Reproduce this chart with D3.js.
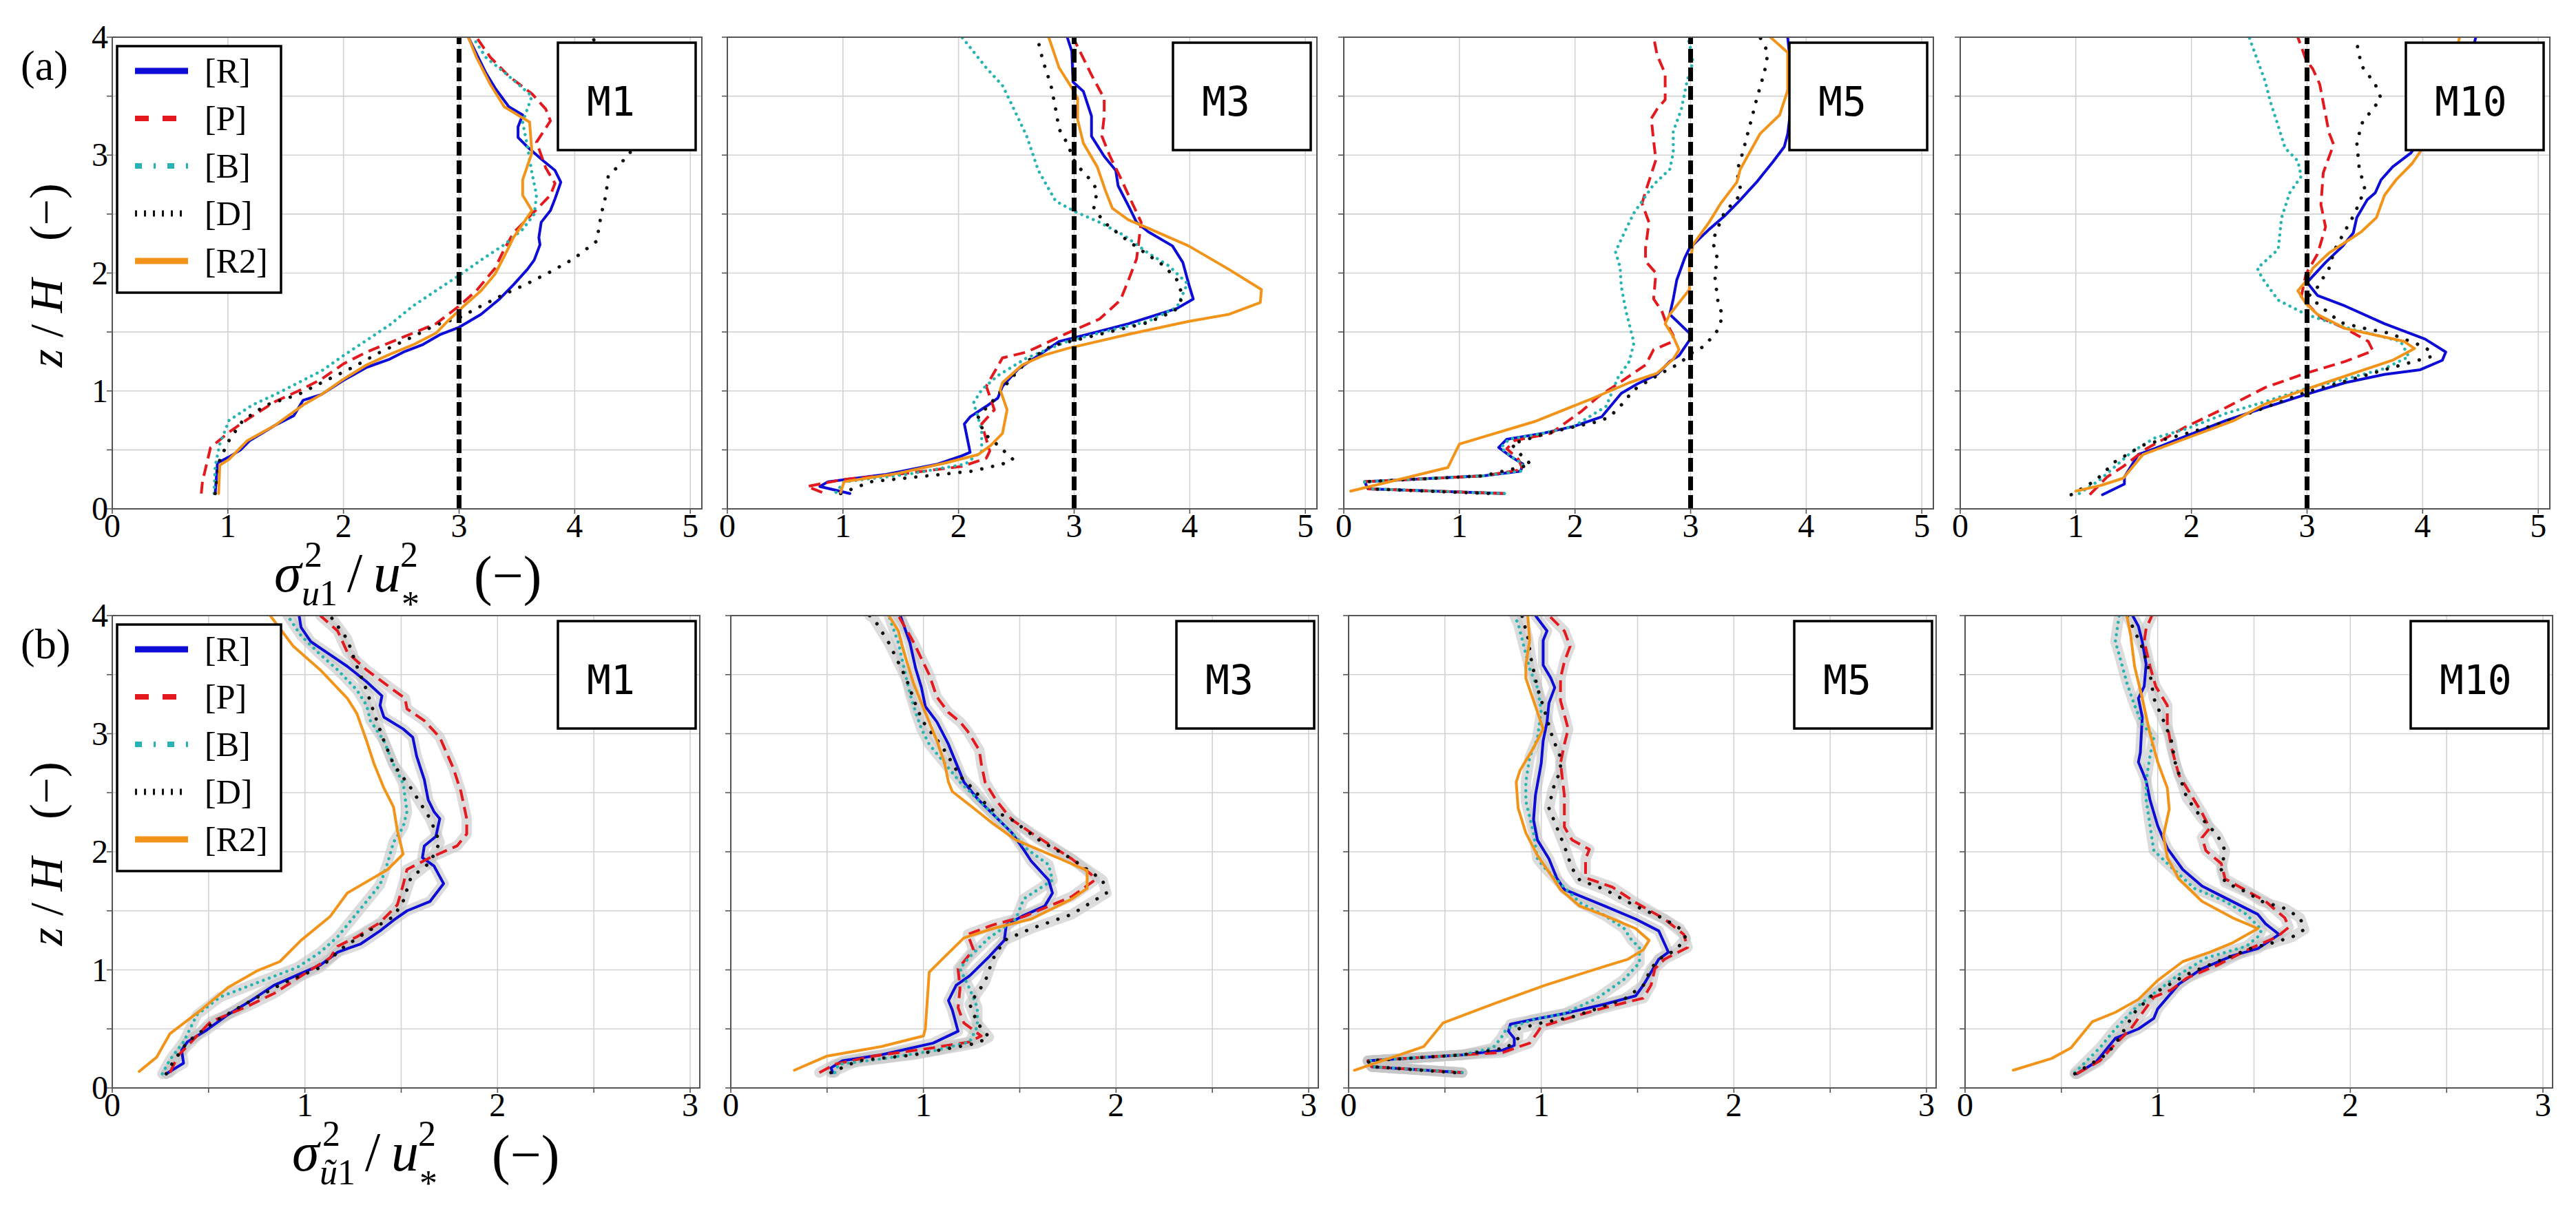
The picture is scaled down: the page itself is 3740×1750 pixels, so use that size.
<!DOCTYPE html>
<html><head><meta charset="utf-8">
<script src="https://cdn.jsdelivr.net/npm/d3@7"></script>
<style>body{margin:0;background:#fff}</style>
</head><body>
<svg id="c" width="3740" height="1750" xmlns="http://www.w3.org/2000/svg"></svg>
<script>
// ---------- categories / labels ----------
const seriesNames = ["[R]", "[P]", "[B]", "[D]", "[R2]"];
const caseLabels = ["M1", "M3", "M5", "M10"];
const rowLetters = ["(a)", "(b)"];
const topXTicks = [0, 1, 2, 3, 4, 5];
const botXTicks = [0, 1, 2, 3];
const yTickLabels = [0, 1, 2, 3, 4];
const refValue = 3;

// ---------- row (a): sigma_u1^2 / u*^2, points are [x, z/H] ----------
const a1R = [[0.89,0.13],[0.91,0.39],[1.01,0.44],[1.11,0.5],[1.19,0.58],[1.41,0.71],[1.57,0.79],[1.65,0.92],[1.81,0.97],[2.0,1.09],[2.2,1.2],[2.4,1.27],[2.52,1.33],[2.68,1.39],[2.84,1.48],[3.0,1.54],[3.19,1.65],[3.35,1.78],[3.47,1.9],[3.59,2.03],[3.65,2.11],[3.7,2.24],[3.69,2.3],[3.71,2.43],[3.79,2.53],[3.83,2.63],[3.88,2.77],[3.83,2.87],[3.73,2.95],[3.59,3.07],[3.51,3.15],[3.51,3.24],[3.55,3.34],[3.43,3.41],[3.31,3.57],[3.23,3.7],[3.15,3.86],[3.08,4.0]];
const a1P = [[0.77,0.13],[0.78,0.23],[0.85,0.52],[1.01,0.65],[1.17,0.76],[1.41,0.91],[1.61,1.0],[1.81,1.1],[2.0,1.23],[2.2,1.33],[2.4,1.41],[2.6,1.49],[2.8,1.57],[3.0,1.72],[3.15,1.85],[3.31,2.04],[3.39,2.2],[3.47,2.34],[3.63,2.5],[3.79,2.66],[3.83,2.76],[3.75,2.89],[3.67,3.11],[3.79,3.29],[3.75,3.39],[3.63,3.52],[3.43,3.67],[3.27,3.83],[3.15,4.0]];
const a1B = [[0.88,0.13],[0.89,0.36],[0.93,0.55],[1.01,0.75],[1.21,0.88],[1.41,0.97],[1.61,1.07],[1.81,1.17],[2.0,1.3],[2.2,1.43],[2.4,1.56],[2.6,1.72],[2.8,1.85],[3.0,1.98],[3.19,2.11],[3.39,2.24],[3.55,2.37],[3.65,2.5],[3.67,2.66],[3.63,2.85],[3.59,3.08],[3.55,3.28],[3.63,3.5],[3.43,3.67],[3.23,3.83],[3.12,4.0]];
const a1D = [[0.89,0.13],[0.93,0.42],[1.01,0.58],[1.13,0.75],[1.33,0.88],[1.61,0.97],[1.81,1.07],[2.08,1.2],[2.32,1.33],[2.6,1.46],[2.8,1.56],[3.0,1.62],[3.19,1.72],[3.39,1.82],[3.59,1.91],[3.79,2.01],[3.99,2.12],[4.11,2.21],[4.19,2.27],[4.23,2.5],[4.27,2.66],[4.29,2.82],[4.39,2.92],[4.48,3.02],[4.5,3.3],[4.4,3.6],[4.25,3.85],[4.15,4.0]];
const a1R2 = [[0.92,0.13],[0.93,0.37],[1.01,0.42],[1.17,0.58],[1.41,0.71],[1.65,0.88],[1.81,0.97],[2.0,1.1],[2.2,1.22],[2.4,1.31],[2.6,1.39],[2.8,1.49],[2.9,1.59],[3.04,1.72],[3.19,1.85],[3.31,1.99],[3.39,2.14],[3.47,2.3],[3.63,2.53],[3.55,2.66],[3.55,2.79],[3.63,3.02],[3.61,3.28],[3.39,3.41],[3.27,3.6],[3.15,3.83],[3.08,4.0]];

const a2R = [[1.06,0.13],[0.8,0.19],[0.87,0.23],[1.36,0.29],[1.82,0.38],[2.03,0.45],[2.1,0.48],[2.05,0.72],[2.1,0.78],[2.24,0.87],[2.34,0.94],[2.38,1.04],[2.52,1.19],[2.69,1.3],[2.87,1.42],[3.12,1.48],[3.47,1.57],[3.89,1.7],[4.03,1.78],[3.99,1.91],[3.94,2.09],[3.85,2.23],[3.64,2.35],[3.54,2.43],[3.48,2.55],[3.38,2.74],[3.36,2.87],[3.26,2.99],[3.15,3.16],[3.15,3.33],[3.08,3.54],[2.99,3.62],[2.98,3.88],[2.94,4.0]];
const a2P = [[0.82,0.14],[0.69,0.19],[1.01,0.25],[1.54,0.3],[2.03,0.36],[2.24,0.43],[2.27,0.49],[2.2,0.72],[2.31,0.84],[2.24,1.04],[2.31,1.16],[2.38,1.28],[2.59,1.33],[2.94,1.49],[3.22,1.61],[3.4,1.77],[3.47,1.94],[3.54,2.12],[3.58,2.43],[3.48,2.64],[3.4,2.81],[3.31,2.99],[3.24,3.16],[3.26,3.33],[3.26,3.48],[3.15,3.68],[3.05,3.88],[2.99,4.0]];
const a2B = [[0.94,0.14],[1.01,0.23],[1.54,0.29],[2.06,0.38],[2.2,0.49],[2.2,0.67],[2.13,0.9],[2.2,1.01],[2.34,1.13],[2.59,1.28],[2.94,1.42],[3.29,1.51],[3.64,1.59],[3.89,1.71],[3.98,1.91],[3.82,2.06],[3.64,2.17],[3.43,2.32],[3.22,2.43],[3.01,2.52],[2.84,2.61],[2.69,2.87],[2.59,3.16],[2.45,3.45],[2.38,3.59],[2.24,3.74],[2.03,4.0]];
const a2D = [[0.98,0.13],[1.24,0.23],[1.73,0.28],[2.12,0.32],[2.38,0.38],[2.47,0.42],[2.34,0.54],[2.22,0.64],[2.17,0.78],[2.31,0.93],[2.45,1.1],[2.59,1.25],[2.8,1.38],[3.22,1.48],[3.64,1.58],[3.87,1.68],[3.94,1.8],[3.89,1.94],[3.78,2.06],[3.57,2.2],[3.4,2.32],[3.26,2.43],[3.17,2.55],[3.2,2.7],[3.15,2.78],[3.01,2.93],[2.94,3.1],[2.87,3.22],[2.84,3.39],[2.8,3.59],[2.73,3.8],[2.68,4.0]];
const a2R2 = [[0.98,0.14],[1.01,0.23],[1.47,0.3],[1.89,0.39],[2.17,0.46],[2.28,0.54],[2.38,0.64],[2.42,0.84],[2.36,1.01],[2.38,1.07],[2.55,1.22],[2.73,1.3],[2.94,1.36],[3.47,1.48],[3.99,1.59],[4.34,1.65],[4.61,1.75],[4.62,1.86],[4.34,2.03],[3.99,2.23],[3.64,2.38],[3.47,2.45],[3.33,2.55],[3.27,2.7],[3.2,2.9],[3.08,3.1],[3.03,3.3],[3.03,3.48],[2.98,3.57],[2.87,3.74],[2.78,4.0]];

const a3R = [[1.39,0.13],[0.21,0.17],[0.18,0.23],[1.21,0.28],[1.53,0.32],[1.55,0.38],[1.45,0.44],[1.34,0.52],[1.41,0.59],[1.72,0.64],[1.99,0.7],[2.23,0.78],[2.4,0.98],[2.54,1.06],[2.71,1.14],[2.82,1.25],[2.9,1.3],[2.99,1.43],[2.99,1.49],[2.82,1.65],[2.85,1.78],[2.88,1.94],[2.95,2.13],[2.99,2.21],[3.16,2.37],[3.29,2.48],[3.42,2.61],[3.57,2.77],[3.71,2.94],[3.81,3.07],[3.84,3.18],[3.88,3.5],[3.86,3.8],[3.84,4.0]];
const a3P = [[1.39,0.13],[0.21,0.17],[0.18,0.23],[1.21,0.28],[1.55,0.335],[1.51,0.42],[1.41,0.51],[1.48,0.58],[1.79,0.64],[2.06,0.83],[2.2,0.95],[2.37,1.06],[2.61,1.22],[2.68,1.35],[2.85,1.42],[2.85,1.47],[2.78,1.6],[2.75,1.68],[2.68,1.78],[2.7,2.0],[2.61,2.1],[2.61,2.21],[2.64,2.43],[2.58,2.59],[2.61,2.69],[2.7,2.96],[2.68,3.12],[2.66,3.31],[2.71,3.39],[2.78,3.47],[2.78,3.69],[2.71,3.85],[2.68,4.0]];
const a3B = [[1.39,0.13],[0.21,0.17],[0.18,0.23],[1.21,0.28],[1.53,0.32],[1.55,0.38],[1.45,0.44],[1.36,0.52],[1.43,0.59],[1.72,0.64],[1.99,0.7],[2.27,0.87],[2.37,1.11],[2.47,1.25],[2.51,1.41],[2.44,1.68],[2.4,1.89],[2.39,2.05],[2.35,2.18],[2.44,2.37],[2.51,2.51],[2.68,2.75],[2.82,2.88],[2.85,3.02],[2.85,3.2],[2.92,3.39],[2.97,3.63],[3.02,3.79],[2.99,3.95],[2.97,4.0]];
const a3D = [[1.25,0.13],[0.21,0.17],[0.18,0.23],[1.21,0.28],[1.62,0.375],[1.51,0.48],[1.45,0.55],[1.72,0.63],[1.92,0.68],[2.2,0.74],[2.3,0.78],[2.4,0.88],[2.51,1.01],[2.64,1.09],[2.82,1.19],[2.9,1.23],[3.02,1.33],[3.12,1.38],[3.23,1.51],[3.28,1.64],[3.24,1.73],[3.21,1.97],[3.23,2.13],[3.19,2.27],[3.23,2.37],[3.29,2.51],[3.41,2.64],[3.43,2.72],[3.4,2.86],[3.45,3.02],[3.52,3.28],[3.57,3.47],[3.64,3.71],[3.67,3.87],[3.6,4.0]];
const a3R2 = [[0.06,0.15],[0.9,0.35],[1.0,0.55],[1.65,0.74],[2.16,0.94],[2.47,1.07],[2.71,1.15],[2.85,1.27],[2.9,1.35],[2.85,1.46],[2.78,1.57],[2.82,1.65],[2.99,1.86],[2.99,2.05],[3.02,2.24],[3.16,2.43],[3.26,2.59],[3.4,2.77],[3.43,2.88],[3.6,3.18],[3.77,3.34],[3.84,3.55],[3.84,3.87],[3.69,4.0]];

const a4R = [[1.23,0.12],[1.42,0.21],[1.42,0.27],[1.54,0.46],[1.68,0.51],[1.96,0.62],[2.3,0.75],[2.64,0.86],[2.99,0.97],[3.33,1.07],[3.67,1.14],[3.98,1.18],[4.17,1.26],[4.2,1.33],[4.02,1.44],[3.67,1.57],[3.33,1.72],[3.09,1.81],[3.0,1.92],[3.16,2.09],[3.31,2.23],[3.4,2.34],[3.43,2.47],[3.52,2.62],[3.59,2.68],[3.64,2.79],[3.74,2.9],[3.9,3.02],[4.1,3.3],[4.3,3.6],[4.42,3.85],[4.46,4.0]];
const a4P = [[1.12,0.12],[1.27,0.27],[1.41,0.36],[1.61,0.51],[1.96,0.7],[2.3,0.86],[2.64,1.03],[2.99,1.15],[3.33,1.25],[3.57,1.34],[3.53,1.42],[3.33,1.53],[3.12,1.62],[3.02,1.72],[2.95,1.8],[2.99,1.99],[3.09,2.16],[3.16,2.39],[3.12,2.58],[3.14,2.85],[3.23,3.09],[3.19,3.19],[3.11,3.6],[3.05,3.73],[2.99,3.81],[2.95,3.92],[2.92,4.0]];
const a4B = [[1.03,0.13],[1.2,0.24],[1.48,0.48],[1.68,0.6],[1.96,0.68],[2.3,0.81],[2.64,0.91],[2.99,1.02],[3.33,1.1],[3.67,1.19],[3.88,1.29],[3.81,1.42],[3.33,1.54],[2.99,1.65],[2.75,1.77],[2.61,1.96],[2.57,2.04],[2.75,2.2],[2.78,2.47],[2.85,2.68],[2.95,2.82],[2.92,2.95],[2.81,3.06],[2.75,3.25],[2.68,3.46],[2.64,3.62],[2.51,3.97],[2.5,4.0]];
const a4D = [[0.96,0.12],[1.17,0.24],[1.34,0.4],[1.58,0.54],[1.96,0.64],[2.3,0.74],[2.64,0.86],[2.99,0.99],[3.29,1.07],[3.67,1.18],[4.07,1.29],[4.08,1.33],[4.0,1.38],[3.84,1.44],[3.71,1.49],[3.5,1.53],[3.29,1.58],[3.09,1.74],[3.02,1.81],[3.09,1.88],[3.19,2.04],[3.24,2.2],[3.33,2.36],[3.41,2.5],[3.5,2.71],[3.45,2.9],[3.43,3.11],[3.48,3.28],[3.64,3.48],[3.59,3.6],[3.47,3.76],[3.42,4.0]];
const a4R2 = [[1.0,0.15],[1.22,0.2],[1.41,0.26],[1.58,0.46],[1.96,0.6],[2.37,0.75],[2.64,0.89],[2.92,0.99],[3.16,1.07],[3.74,1.26],[3.93,1.36],[3.84,1.42],[3.33,1.53],[3.09,1.65],[2.99,1.74],[2.92,1.85],[2.99,1.93],[3.05,2.04],[3.19,2.17],[3.33,2.26],[3.47,2.35],[3.6,2.47],[3.67,2.66],[3.77,2.79],[3.91,2.93],[3.98,3.03],[4.1,3.4],[4.25,3.75],[4.32,4.0]];

// ---------- row (b): sigma_~u1^2 / u*^2 ----------
const b1R = [[0.28,0.12],[0.37,0.21],[0.36,0.32],[0.39,0.39],[0.49,0.49],[0.6,0.62],[0.72,0.74],[0.84,0.87],[0.98,0.97],[1.08,1.04],[1.17,1.15],[1.29,1.22],[1.39,1.33],[1.46,1.42],[1.53,1.5],[1.65,1.58],[1.72,1.73],[1.67,1.88],[1.61,1.95],[1.62,2.05],[1.68,2.13],[1.7,2.28],[1.67,2.34],[1.64,2.44],[1.62,2.61],[1.58,2.81],[1.56,2.97],[1.51,3.04],[1.41,3.14],[1.39,3.24],[1.4,3.32],[1.32,3.44],[1.22,3.57],[1.13,3.67],[1.03,3.78],[0.98,3.9],[0.97,4.0]];
const b1P = [[0.3,0.13],[0.34,0.27],[0.41,0.39],[0.51,0.56],[0.7,0.69],[0.84,0.8],[1.03,1.0],[1.13,1.1],[1.17,1.2],[1.27,1.28],[1.39,1.4],[1.48,1.55],[1.51,1.72],[1.53,1.85],[1.65,1.95],[1.79,2.05],[1.84,2.15],[1.84,2.28],[1.81,2.51],[1.77,2.71],[1.7,2.97],[1.62,3.11],[1.53,3.21],[1.52,3.3],[1.46,3.37],[1.32,3.54],[1.22,3.69],[1.17,3.87],[1.08,4.0]];
const b1B = [[0.26,0.12],[0.3,0.24],[0.37,0.39],[0.44,0.62],[0.56,0.77],[0.75,0.89],[0.96,1.02],[1.08,1.15],[1.17,1.28],[1.24,1.42],[1.32,1.58],[1.39,1.72],[1.43,1.91],[1.46,2.08],[1.51,2.21],[1.53,2.34],[1.51,2.58],[1.46,2.74],[1.41,2.94],[1.34,3.11],[1.32,3.24],[1.27,3.37],[1.17,3.54],[1.08,3.67],[0.98,3.83],[0.91,4.0]];
const b1D = [[0.28,0.12],[0.32,0.23],[0.39,0.39],[0.53,0.56],[0.7,0.72],[0.89,0.89],[1.08,1.02],[1.2,1.19],[1.32,1.32],[1.46,1.45],[1.51,1.58],[1.55,1.78],[1.65,1.91],[1.7,2.08],[1.65,2.28],[1.55,2.54],[1.46,2.74],[1.41,2.94],[1.36,3.17],[1.32,3.37],[1.27,3.57],[1.22,3.8],[1.13,4.0]];
const b1R2 = [[0.14,0.14],[0.23,0.26],[0.3,0.46],[0.46,0.66],[0.6,0.85],[0.75,0.99],[0.87,1.07],[0.98,1.25],[1.13,1.45],[1.22,1.65],[1.43,1.85],[1.51,1.98],[1.48,2.18],[1.46,2.38],[1.41,2.54],[1.36,2.74],[1.32,2.94],[1.27,3.17],[1.22,3.3],[1.08,3.54],[0.94,3.74],[0.82,4.0]];

const b2R = [[0.53,0.13],[0.52,0.17],[0.58,0.23],[0.78,0.28],[1.05,0.38],[1.18,0.48],[1.15,0.66],[1.13,0.74],[1.17,0.87],[1.24,0.95],[1.34,1.11],[1.42,1.25],[1.43,1.38],[1.52,1.46],[1.63,1.54],[1.67,1.65],[1.65,1.76],[1.56,1.92],[1.52,2.02],[1.46,2.16],[1.36,2.32],[1.28,2.45],[1.21,2.59],[1.19,2.67],[1.17,2.75],[1.13,2.91],[1.07,3.1],[1.01,3.23],[0.99,3.39],[0.96,3.55],[0.93,3.77],[0.88,4.0]];
const b2P = [[0.46,0.13],[0.54,0.2],[0.74,0.27],[1.05,0.34],[1.24,0.39],[1.3,0.44],[1.21,0.55],[1.18,0.68],[1.19,0.84],[1.18,1.01],[1.26,1.17],[1.23,1.3],[1.36,1.38],[1.52,1.45],[1.77,1.62],[1.89,1.76],[1.87,1.81],[1.77,1.94],[1.56,2.16],[1.46,2.27],[1.38,2.43],[1.32,2.59],[1.3,2.75],[1.29,2.86],[1.23,3.02],[1.19,3.1],[1.13,3.18],[1.07,3.31],[1.03,3.5],[0.95,3.77],[0.87,4.0]];
const b2B = [[0.54,0.13],[0.56,0.2],[0.8,0.25],[1.07,0.32],[1.24,0.39],[1.28,0.52],[1.28,0.68],[1.24,0.84],[1.19,1.01],[1.24,1.11],[1.34,1.27],[1.48,1.43],[1.52,1.6],[1.67,1.76],[1.65,1.89],[1.54,2.02],[1.46,2.16],[1.36,2.32],[1.19,2.59],[1.11,2.75],[1.03,2.91],[0.99,3.04],[0.96,3.18],[0.93,3.34],[0.9,3.55],[0.87,3.77],[0.82,4.0]];
const b2D = [[0.52,0.13],[0.66,0.23],[0.95,0.28],[1.15,0.34],[1.28,0.38],[1.34,0.43],[1.28,0.55],[1.24,0.71],[1.32,0.9],[1.36,1.09],[1.42,1.25],[1.56,1.35],[1.77,1.47],[1.95,1.65],[1.93,1.76],[1.77,1.94],[1.6,2.1],[1.46,2.27],[1.34,2.37],[1.26,2.53],[1.19,2.64],[1.15,2.75],[1.09,2.91],[1.01,3.07],[0.97,3.2],[0.91,3.47],[0.82,3.77],[0.74,3.98],[0.72,4.0]];
const b2R2 = [[0.33,0.15],[0.5,0.27],[0.78,0.35],[1.0,0.44],[1.01,0.5],[1.03,0.98],[1.11,1.11],[1.21,1.27],[1.36,1.35],[1.56,1.43],[1.77,1.6],[1.85,1.69],[1.85,1.84],[1.71,1.94],[1.48,2.1],[1.36,2.24],[1.26,2.37],[1.15,2.51],[1.13,2.59],[1.11,2.75],[1.07,2.94],[1.01,3.18],[0.95,3.42],[0.89,3.74],[0.87,3.87],[0.82,4.0]];

const b3R = [[0.59,0.13],[0.12,0.18],[0.1,0.23],[0.59,0.28],[0.8,0.32],[0.86,0.36],[0.86,0.42],[0.83,0.48],[0.84,0.54],[0.96,0.58],[1.12,0.63],[1.33,0.71],[1.49,0.78],[1.53,0.87],[1.57,0.98],[1.61,1.09],[1.66,1.15],[1.61,1.33],[1.49,1.43],[1.33,1.54],[1.12,1.68],[1.08,1.78],[1.04,1.94],[0.98,2.1],[0.96,2.27],[0.97,2.48],[1.0,2.75],[1.01,2.94],[1.03,3.1],[1.04,3.26],[1.07,3.39],[1.05,3.47],[1.01,3.58],[1.01,3.79],[1.03,3.87],[0.97,4.0]];
const b3P = [[0.59,0.13],[0.12,0.18],[0.1,0.23],[0.59,0.28],[0.8,0.3],[0.94,0.38],[0.98,0.47],[1.0,0.52],[1.16,0.6],[1.33,0.68],[1.53,0.76],[1.57,0.87],[1.59,1.01],[1.64,1.09],[1.76,1.19],[1.74,1.3],[1.64,1.43],[1.49,1.57],[1.37,1.7],[1.23,1.78],[1.23,1.94],[1.25,2.02],[1.16,2.1],[1.12,2.21],[1.12,2.48],[1.1,2.75],[1.12,2.91],[1.14,3.04],[1.1,3.28],[1.1,3.47],[1.12,3.61],[1.15,3.74],[1.12,3.87],[1.04,4.0]];
const b3B = [[0.59,0.13],[0.12,0.18],[0.1,0.23],[0.59,0.28],[0.75,0.34],[0.79,0.42],[0.82,0.5],[0.96,0.58],[1.12,0.63],[1.29,0.76],[1.43,0.92],[1.51,1.06],[1.51,1.19],[1.47,1.25],[1.43,1.35],[1.33,1.46],[1.2,1.57],[1.1,1.73],[1.02,1.86],[0.98,1.94],[0.96,2.16],[0.92,2.43],[0.92,2.59],[0.94,2.8],[0.98,2.96],[1.0,3.2],[0.98,3.39],[0.94,3.55],[0.91,3.74],[0.88,3.93],[0.86,4.0]];
const b3D = [[0.55,0.13],[0.12,0.18],[0.1,0.23],[0.59,0.28],[0.82,0.34],[0.88,0.42],[0.88,0.5],[1.0,0.55],[1.16,0.6],[1.43,0.75],[1.53,0.87],[1.57,1.01],[1.61,1.09],[1.7,1.17],[1.75,1.27],[1.72,1.35],[1.64,1.43],[1.49,1.54],[1.33,1.68],[1.2,1.76],[1.16,1.86],[1.12,2.05],[1.08,2.21],[1.04,2.37],[1.06,2.53],[1.1,2.69],[1.1,2.8],[1.06,2.96],[1.02,3.18],[0.98,3.39],[0.95,3.61],[0.93,3.82],[0.9,4.0]];
const b3R2 = [[0.03,0.15],[0.39,0.35],[0.49,0.55],[0.75,0.71],[1.02,0.87],[1.33,1.03],[1.45,1.09],[1.53,1.17],[1.56,1.25],[1.49,1.35],[1.33,1.46],[1.2,1.54],[1.1,1.68],[1.06,1.78],[0.98,1.97],[0.92,2.16],[0.88,2.37],[0.87,2.59],[0.89,2.69],[0.96,2.88],[1.01,3.04],[0.96,3.28],[0.92,3.47],[0.92,3.58],[0.94,3.79],[0.93,4.0]];

const b4R = [[0.58,0.12],[0.68,0.22],[0.78,0.42],[0.9,0.5],[0.98,0.59],[1.0,0.67],[1.11,0.88],[1.23,1.01],[1.39,1.12],[1.52,1.18],[1.63,1.3],[1.56,1.39],[1.52,1.47],[1.35,1.61],[1.23,1.71],[1.13,1.85],[1.05,2.03],[1.0,2.22],[0.96,2.44],[0.94,2.6],[0.9,2.76],[0.91,2.84],[0.92,3.14],[0.9,3.3],[0.93,3.4],[0.94,3.59],[0.92,3.78],[0.9,3.91],[0.87,4.0]];
const b4P = [[0.58,0.12],[0.7,0.23],[0.76,0.34],[0.86,0.5],[0.98,0.77],[1.07,0.83],[1.15,0.93],[1.31,1.04],[1.48,1.18],[1.62,1.28],[1.68,1.36],[1.66,1.44],[1.56,1.58],[1.44,1.69],[1.35,1.77],[1.33,1.9],[1.25,2.01],[1.23,2.12],[1.27,2.2],[1.23,2.33],[1.17,2.49],[1.11,2.65],[1.07,2.89],[1.05,3.08],[1.05,3.24],[0.99,3.4],[0.96,3.57],[0.93,3.78],[0.94,3.89],[0.97,4.0]];
const b4B = [[0.57,0.13],[0.7,0.34],[0.78,0.5],[0.88,0.67],[0.98,0.8],[1.11,0.96],[1.25,1.1],[1.46,1.2],[1.52,1.28],[1.54,1.34],[1.46,1.47],[1.35,1.58],[1.19,1.69],[1.07,1.87],[0.98,2.01],[0.96,2.22],[0.94,2.44],[0.94,2.6],[0.96,2.81],[0.98,2.97],[0.92,3.08],[0.88,3.24],[0.84,3.43],[0.8,3.67],[0.78,3.78],[0.8,4.0]];
const b4D = [[0.57,0.12],[0.74,0.29],[0.8,0.42],[0.88,0.64],[0.98,0.8],[1.15,0.96],[1.31,1.07],[1.48,1.18],[1.6,1.23],[1.7,1.28],[1.76,1.34],[1.74,1.44],[1.66,1.52],[1.54,1.58],[1.46,1.66],[1.35,1.74],[1.33,1.85],[1.35,2.01],[1.31,2.14],[1.23,2.28],[1.15,2.46],[1.09,2.76],[1.07,2.95],[1.03,3.11],[0.98,3.3],[0.96,3.51],[0.92,3.73],[0.86,3.94],[0.84,4.0]];
const b4R2 = [[0.25,0.15],[0.45,0.25],[0.55,0.34],[0.66,0.56],[0.78,0.64],[0.9,0.75],[1.0,0.91],[1.13,1.07],[1.27,1.15],[1.39,1.23],[1.52,1.35],[1.39,1.44],[1.23,1.58],[1.11,1.77],[1.05,1.95],[1.03,2.14],[1.06,2.36],[1.05,2.54],[1.0,2.76],[0.96,3.0],[0.92,3.3],[0.88,3.57],[0.86,3.83],[0.84,4.0]];

// ---------- styles ----------
const styles = [
  {color:"#0c0cd6", w:4,   dash:null,       cap:"round", lw:9, ldash:null},
  {color:"#e3191e", w:4,   dash:"17,9",     cap:"butt",  lw:8, ldash:"20,20"},
  {color:"#25b4b0", w:4.5, dash:"0.1,9",    cap:"round", lw:8, ldash:"10,17,3,17"},
  {color:"#111111", w:5,   dash:"0.1,16",   cap:"round", lw:9, ldash:"3,10"},
  {color:"#f29419", w:4,   dash:null,       cap:"round", lw:9, ldash:null}
];

const rows = [
  {top:54, h:685, lefts:[163,1056,1951,2846], w:856, xmax:5.1, xticks:topXTicks, xstep:1, halo:false, ref:true,
   data:[[a1R,a1P,a1B,a1D,a1R2],[a2R,a2P,a2B,a2D,a2R2],[a3R,a3P,a3B,a3D,a3R2],[a4R,a4P,a4B,a4D,a4R2]], tilde:false},
  {top:894, h:686, lefts:[163,1061,1958,2853], w:853, xmax:3.05, xticks:botXTicks, xstep:0.5, halo:true, ref:false,
   data:[[b1R,b1P,b1B,b1D,b1R2],[b2R,b2P,b2B,b2D,b2R2],[b3R,b3P,b3B,b3D,b3R2],[b4R,b4P,b4B,b4D,b4R2]], tilde:true}
];

const svg = d3.select("#c");
svg.append("rect").attr("width",3740).attr("height",1750).attr("fill","#fff");
const serif = "'Liberation Serif','DejaVu Serif',serif";
const mono = "'DejaVu Sans Mono','Liberation Mono',monospace";
const defs = svg.append("defs");

rows.forEach((row, ri) => {
  const y = d3.scaleLinear().domain([0,4]).range([row.top+row.h, row.top]);
  row.lefts.forEach((left, ci) => {
    const x = d3.scaleLinear().domain([0,row.xmax]).range([left, left+row.w]);
    const g = svg.append("g");
    const cid = "clip"+ri+"_"+ci;
    defs.append("clipPath").attr("id",cid).append("rect")
      .attr("x",left).attr("y",row.top).attr("width",row.w).attr("height",row.h);

    // grid
    const yGrid = d3.range(0, 4.01, 0.5);
    const xGrid = d3.range(0, row.xmax+0.001, row.xstep);
    g.selectAll(".gy").data(yGrid).join("line")
      .attr("x1",left).attr("x2",left+row.w).attr("y1",d=>y(d)).attr("y2",d=>y(d))
      .attr("stroke","#d2d2d2").attr("stroke-width",1.6);
    g.selectAll(".gx").data(xGrid).join("line")
      .attr("x1",d=>x(d)).attr("x2",d=>x(d)).attr("y1",row.top).attr("y2",row.top+row.h)
      .attr("stroke","#d2d2d2").attr("stroke-width",1.6);

    // ticks
    g.selectAll(".ty").data(yGrid).join("line")
      .attr("x1",left-8).attr("x2",left).attr("y1",d=>y(d)).attr("y2",d=>y(d))
      .attr("stroke","#555").attr("stroke-width",1.6);
    g.selectAll(".tx").data(xGrid).join("line")
      .attr("x1",d=>x(d)).attr("x2",d=>x(d)).attr("y1",row.top+row.h).attr("y2",row.top+row.h+7)
      .attr("stroke","#555").attr("stroke-width",1.6);

    // tick labels
    g.selectAll(".lx").data(row.xticks).join("text")
      .attr("x",d=>x(d)).attr("y",row.top+row.h+41)
      .attr("text-anchor","middle").attr("font-family",serif).attr("font-size",48).text(d=>d);
    if (ci === 0) {
      g.selectAll(".ly").data(yTickLabels).join("text")
        .attr("x",left-6).attr("y",d=>y(d)+16)
        .attr("text-anchor","end").attr("font-family",serif).attr("font-size",48).text(d=>d);
    }

    const line = d3.line().x(d=>x(d[0])).y(d=>y(d[1]));
    const pg = g.append("g").attr("clip-path","url(#"+cid+")");
    const series = row.data[ci];
    if (row.halo) {
      series.forEach((s, si) => {
        if (si === 4) return;
        pg.append("path").attr("d",line(s)).attr("fill","none")
          .attr("stroke","#c4c4c4").attr("stroke-opacity",0.6).attr("stroke-width",15)
          .attr("stroke-linejoin","round").attr("stroke-linecap","round");
      });
    }
    series.forEach((s, si) => {
      const st = styles[si];
      pg.append("path").attr("d",line(s)).attr("fill","none")
        .attr("stroke",st.color).attr("stroke-width",st.w)
        .attr("stroke-dasharray",st.dash).attr("stroke-linecap",st.cap)
        .attr("stroke-linejoin","round");
    });
    if (row.ref) {
      pg.append("line").attr("x1",x(refValue)).attr("x2",x(refValue))
        .attr("y1",y(0)).attr("y2",y(4))
        .attr("stroke","#000").attr("stroke-width",7).attr("stroke-dasharray","20,7");
    }

    // frame
    g.append("rect").attr("x",left).attr("y",row.top).attr("width",row.w).attr("height",row.h)
      .attr("fill","none").attr("stroke","#555").attr("stroke-width",2);

    // case label box
    g.append("rect").attr("x",left+647).attr("y",row.top+8).attr("width",200).attr("height",156)
      .attr("fill","#fff").attr("stroke","#000").attr("stroke-width",3.5);
    g.append("text").attr("x",left+689).attr("y",row.top+114)
      .attr("font-family",mono).attr("font-size",58).text(caseLabels[ci]);

    // legend in first panel
    if (ci === 0) {
      const lg = g.append("g");
      lg.append("rect").attr("x",170).attr("y",row.top+13).attr("width",238).attr("height",358)
        .attr("fill","#fff").attr("stroke","#000").attr("stroke-width",3.5);
      seriesNames.forEach((name, si) => {
        const st = styles[si];
        const ly = row.top + 49 + 69*si;
        lg.append("line").attr("x1",196).attr("x2",273).attr("y1",ly).attr("y2",ly)
          .attr("stroke",st.color).attr("stroke-width",st.lw).attr("stroke-dasharray",st.ldash);
        lg.append("text").attr("x",297).attr("y",ly+17).attr("font-family",serif)
          .attr("font-size",50).text(name);
      });
    }
  });

  // row letter
  svg.append("text").attr("x",30).attr("y",row.top+62).attr("font-family",serif)
    .attr("font-size",62).text(rowLetters[ri]);

  // y axis label
  const yl = svg.append("text").attr("transform","translate(90,"+(row.top+346)+") rotate(-90)")
    .attr("text-anchor","middle").attr("font-family",serif).attr("font-size",68);
  yl.append("tspan").attr("font-style","italic").text("z");
  yl.append("tspan").text(" / ");
  yl.append("tspan").attr("font-style","italic").text("H");
  yl.append("tspan").attr("dx",55).text("(−)");

  // x axis label
  const x0 = ri === 0 ? 398 : 424;
  const b0 = row.top + row.h + 120;
  const xl = svg.append("g").attr("font-family",serif);
  xl.append("text").attr("x",x0).attr("y",b0).attr("font-size",80).attr("font-style","italic").text("σ");
  xl.append("text").attr("x",x0+44).attr("y",b0-36).attr("font-size",52).text("2");
  const sub = xl.append("text").attr("x",x0+40).attr("y",b0+20).attr("font-size",52);
  sub.append("tspan").attr("font-style","italic").text(row.tilde ? "ũ" : "u");
  sub.append("tspan").text("1");
  xl.append("text").attr("x",x0+106).attr("y",b0).attr("font-size",80).text("/");
  xl.append("text").attr("x",x0+144).attr("y",b0).attr("font-size",80).attr("font-style","italic").text("u");
  xl.append("text").attr("x",x0+183).attr("y",b0-36).attr("font-size",52).text("2");
  xl.append("text").attr("x",x0+185).attr("y",b0+36).attr("font-size",52).text("*");
  xl.append("text").attr("x",x0+290).attr("y",b0+4).attr("font-size",80).text("(−)");
});
</script>
</body></html>
